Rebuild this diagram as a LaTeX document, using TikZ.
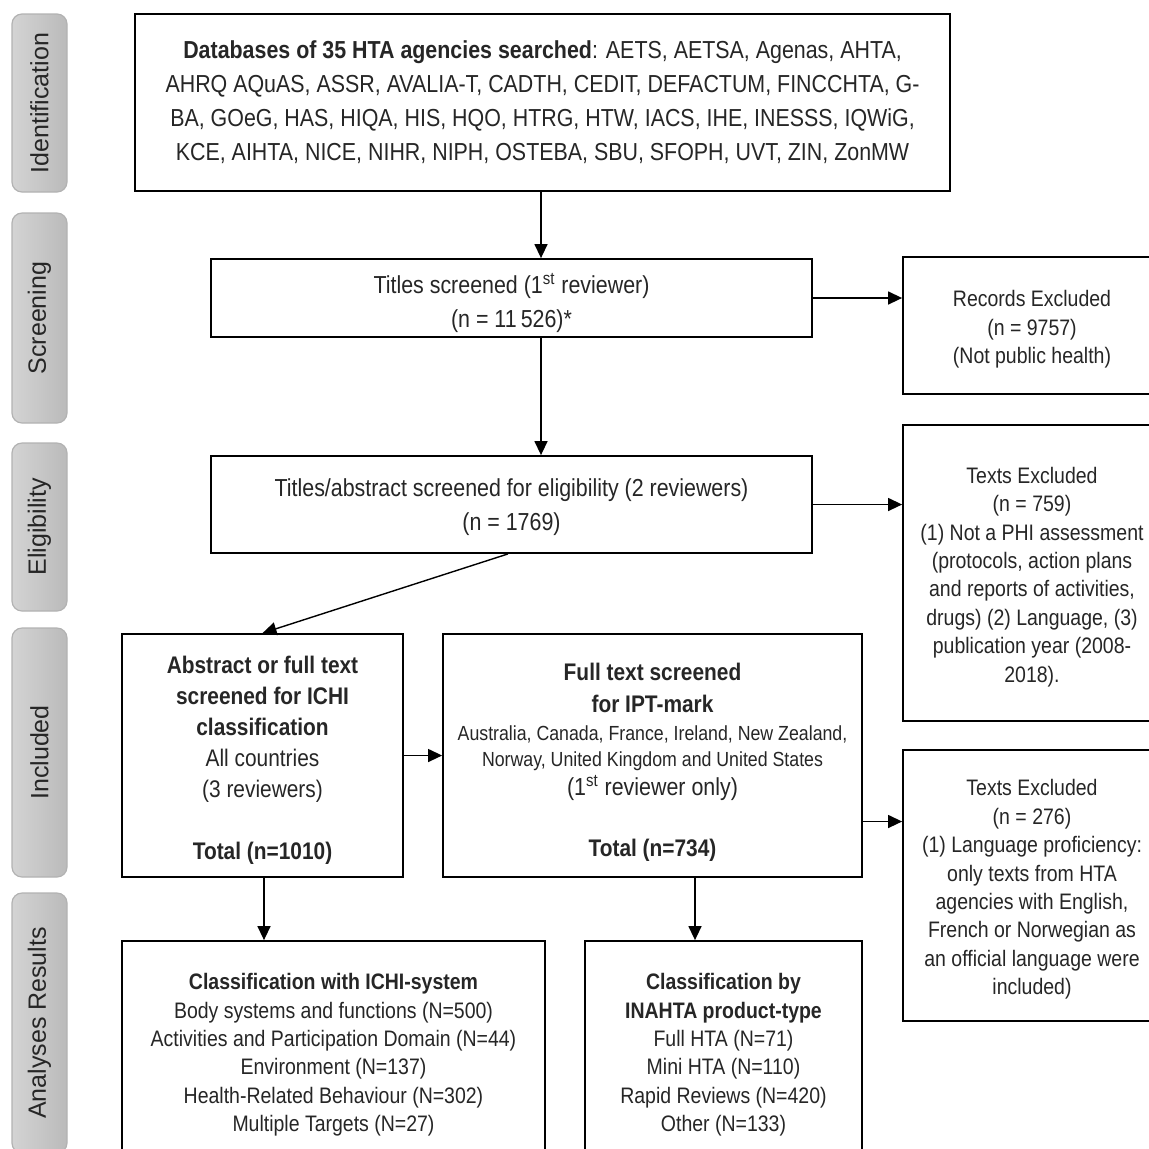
\documentclass[tikz,border=0pt]{standalone}
\usepackage{fontspec}
\setmainfont{Liberation Sans}[FakeStretch=0.87]
\newfontfamily\labelfont{Liberation Sans}
\usetikzlibrary{arrows.meta,calc}
\begin{document}
\begin{tikzpicture}[x=0.5pt,y=-0.5pt,
  box/.style={draw=black,line width=0.9pt,fill=white,align=center,inner sep=0pt,text=black!85},
  arr/.style={draw=black,line width=0.7pt,-{Triangle[length=7pt,width=6.5pt]}},
  phase/.style={draw=black!30,line width=0.6pt,rounded corners=5pt,left color=black!17,right color=black!27,
    minimum width=27.5pt,inner sep=0pt,text=black!85},
  phasetext/.style={rotate=90,font=\labelfont\fontsize{12.5}{14}\selectfont,text=black!85},
  big/.style={font=\fontsize{12.3}{17}\selectfont},
  mid/.style={font=\fontsize{11.2}{14.2}\selectfont},
]
\useasboundingbox (0,0) rectangle (1149,1148);
\clip (0,0) rectangle (1149,1148);

% phase labels
\node[phase,minimum height=89pt] (pid) at (39.5,103) {};
\node[phasetext] (tid) at (pid.center) {Identification};
\node[phase,minimum height=105pt] (psc) at (39.5,318) {};
\node[phasetext] (tsc) at (psc.center) {Screening};
\node[phase,minimum height=84pt] (pel) at (39.5,527) {};
\node[phasetext] (tel) at (pel.center) {Eligibility};
\node[phase,minimum height=124.5pt] (pin) at (39.5,752.5) {};
\node[phasetext] (tin) at (pin.center) {Included};
\node[phase,minimum height=130pt] (pan) at (39.5,1023) {};
\node[phasetext] (tan) at (pan.center) {Analyses Results};

% main boxes
\node[box,big,minimum width=407.5pt,minimum height=88.5pt] (top) at (542.5,102.5)
 {\textbf{Databases of 35 HTA agencies searched}: AETS, AETSA, Agenas, AHTA,\\
  AHRQ AQuAS, ASSR, AVALIA-T, CADTH, CEDIT, DEFACTUM, FINCCHTA, G-\\
  BA, GOeG, HAS, HIQA, HIS, HQO, HTRG, HTW, IACS, IHE, INESSS, IQWiG,\\
  KCE, AIHTA, NICE, NIHR, NIPH, OSTEBA, SBU, SFOPH, UVT, ZIN, ZonMW};

\node[box,big,minimum width=300.5pt,minimum height=39pt] (titles) at (511.5,298)
 {\rule{0pt}{15pt}Titles screened (1\textsuperscript{st} reviewer)\\(n = 11\,526)*};

\node[box,mid,minimum width=129pt,minimum height=68.5pt] (rec) at (1032,325.5)
 {\rule{0pt}{12pt}Records Excluded\\(n = 9757)\\(Not public health)};

\node[box,big,minimum width=300.5pt,minimum height=48.5pt] (elig) at (511.5,504.5)
 {\rule{0pt}{12pt}Titles/abstract screened for eligibility (2 reviewers)\\(n = 1769)};

\node[box,mid,minimum width=129pt,minimum height=148pt] (tex1) at (1032,573)
 {\rule{0pt}{12pt}Texts Excluded\\(n = 759)\\(1) Not a PHI assessment\\(protocols, action plans\\and reports of activities,\\drugs) (2) Language, (3)\\publication year (2008-\\2018).};

\node[box,minimum width=140.5pt,minimum height=121.5pt,font=\fontsize{12}{15.5}\selectfont] (incL) at (262.5,755.5)
 {\rule{0pt}{13pt}\textbf{Abstract or full text}\\\textbf{screened for ICHI}\\\textbf{classification}\\All countries\\(3 reviewers)\\[15.5pt]\textbf{Total (n=1010)}};

\node[box,minimum width=209.5pt,minimum height=121.5pt,font=\fontsize{12}{15}\selectfont] (incM) at (652.5,755.5)
 {\rule{0pt}{15pt}\textbf{Full text screened}\\[1pt]
  \textbf{for IPT-mark}\\[-1pt]
  {\fontsize{10.2}{15}\selectfont Australia, Canada, France, Ireland, New Zealand,}\\[-2pt]
  {\fontsize{10.2}{15}\selectfont Norway, United Kingdom and United States}\\[-0.5pt]
  {\fontsize{12.3}{15}\selectfont (1\textsuperscript{st} reviewer only)}\\[15.5pt]
  \textbf{Total (n=734)}};

\node[box,mid,minimum width=129pt,minimum height=135.5pt] (tex2) at (1032,885.5)
 {\rule{0pt}{12pt}Texts Excluded\\(n = 276)\\(1) Language proficiency:\\only texts from HTA\\agencies with English,\\French or Norwegian as\\an official language were\\included)};

\node[box,mid,minimum width=211.5pt,minimum height=110pt] (resL) at (333.5,1051)
 {\rule{0pt}{12pt}\textbf{Classification with ICHI-system}\\Body systems and functions (N=500)\\Activities and Participation Domain (N=44)\\Environment (N=137)\\Health-Related Behaviour (N=302)\\Multiple Targets (N=27)};

\node[box,mid,minimum width=138.5pt,minimum height=110pt] (resM) at (723.5,1051)
 {\rule{0pt}{12pt}\textbf{Classification by}\\\textbf{INAHTA product-type}\\Full HTA (N=71)\\Mini HTA (N=110)\\Rapid Reviews (N=420)\\Other (N=133)};

% connectors
\draw[arr] ($(top.south)+(-1.5,0)$) -- ($(top.south |- titles.north)+(-1.5,0)$);
\draw[arr] ($(top.south |- titles.south)+(-1.5,0)$) -- ($(top.south |- elig.north)+(-1.5,0)$);
\draw[arr] (titles.east) -- (titles.east -| rec.west);
\draw[arr] (elig.east) -- (elig.east -| tex1.west);
\draw[arr] ($(elig.south)+(-3.5,0)$) -- (incL.north);
\draw[arr] (incL.east) -- (incL.east -| incM.west);
\draw[arr] ($(incM.east)+(0,66)$) -- ($(incM.east -| tex2.west)+(0,66)$);
\draw[arr] ($(incL.south)+(1.5,0)$) -- ($(incL.south |- resL.north)+(1.5,0)$);
\draw[arr] ($(incM.south)+(42.5,0)$) -- ($(incM.south |- resM.north)+(42.5,0)$);
\end{tikzpicture}
\end{document}
